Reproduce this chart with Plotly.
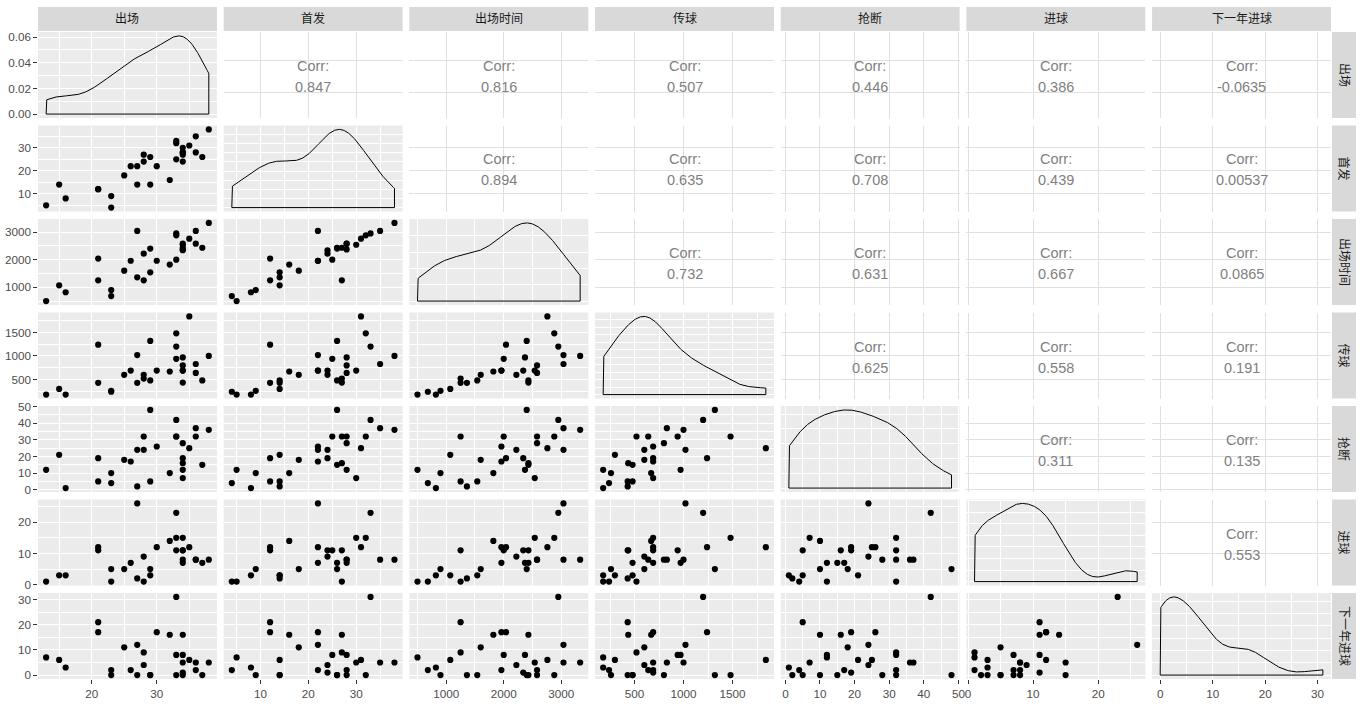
import numpy as np
import plotly.graph_objects as go

# ---------------- data ----------------
var_names = ["出场", "首发", "出场时间", "传球", "抢断", "进球", "下一年进球"]

appearances = [13, 15, 16, 21, 21, 23, 23, 25, 26, 27, 27, 28, 28, 29, 29, 30, 32, 33, 33, 33,
               34, 34, 34, 34, 34, 35, 36, 36, 37, 38]
starts = [5, 14, 8, 12, 12, 9, 4, 18, 22, 22, 14, 27, 24, 26, 14, 22, 16, 33, 32, 25,
          30, 28, 27, 28, 24, 31, 35, 28, 26, 38]
minutes = [500, 1070, 820, 2040, 1250, 900, 680, 1600, 1960, 3040, 1360, 1250, 2220, 2400, 1540,
           1960, 1820, 2950, 2880, 2000, 2540, 2370, 2430, 2580, 2340, 2760, 3040, 2580, 2430, 3330]
passes = [180, 300, 180, 1240, 430, 260, 240, 600, 690, 1020, 430, 520, 600, 1320, 480,
          690, 670, 1200, 1480, 940, 690, 970, 436, 800, 690, 1840, 830, 640, 480, 1000]
tackles = [12, 21, 1, 19, 5, 10, 4, 18, 17, 24, 2, 32, 24, 48, 5, 26, 10, 42, 32, 32,
           7, 12, 16, 28, 19, 25, 37, 32, 15, 36]
goals = [1, 3, 3, 12, 11, 5, 1, 5, 7, 26, 2, 1, 9, 5, 3, 12, 14, 23, 15, 11,
         15, 7, 11, 8, 11, 12, 8, 8, 7, 8]
next_goals = [7, 6, 3, 17, 21, 0, 2, 11, 2, 12, 0, 9, 4, 0, 0, 17, 16, 31, 0, 8,
              5, 8, 16, 0, 1, 6, 5, 2, 0, 5]

# correlation labels shown in the upper triangle (row by row)
corr_labels = ["0.847", "0.816", "0.507", "0.446", "0.386", "-0.0635",
               "0.894", "0.635", "0.708", "0.439", "0.00537",
               "0.732", "0.631", "0.667", "0.0865",
               "0.625", "0.558", "0.191",
               "0.311", "0.135",
               "0.553"]

# axis break steps per variable
var_steps = [10, 10, 1000, 500, 10, 10, 10]

data = [appearances, starts, minutes, passes, tackles, goals, next_goals]
n = len(var_names)

# ---------------- layout geometry (pixels) ----------------
W, H = 1360, 706
left, top = 38, 32
pw, ph = 179, 86
pitch_x, pitch_y = 185.75, 93.5
plot_w = pitch_x * (n - 1) + pw
plot_h = pitch_y * (n - 1) + ph
right = left + plot_w
bottom = top + plot_h

def px2paper_x(px):
    return (px - left) / plot_w

def px2paper_y(py):
    return (bottom - py) / plot_h

FONT = "Liberation Sans, Noto Sans CJK SC, Arial, sans-serif"
PANEL_BG = "#EBEBEB"
STRIP_BG = "#D9D9D9"
TICK_COL = "#4D4D4D"


def expand(lo, hi, f=0.05):
    d = (hi - lo) * f
    return [lo - d, hi + d]


def nrd0(x):
    x = np.asarray(x, float)
    sd = x.std(ddof=1)
    q75, q25 = np.percentile(x, [75, 25])
    lo = min(sd, (q75 - q25) / 1.34)
    if lo == 0:
        lo = sd
    return 0.9 * lo * len(x) ** -0.2


def nice_step(span):
    raw = span / 4.0
    mag = 10 ** np.floor(np.log10(raw))
    best = None
    for m in [1, 2, 5, 10]:
        s = m * mag
        if span / s >= 2.5:
            best = s
    return best if best else mag


# density curves
dens = []
for v in data:
    x = np.asarray(v, float)
    bw = nrd0(x)
    g = np.linspace(x.min(), x.max(), 512)
    d = np.exp(-0.5 * ((g[:, None] - x[None, :]) / bw) ** 2).sum(1) / (len(x) * bw * np.sqrt(2 * np.pi))
    dens.append((g, d))

fig = go.Figure()
layout = dict(
    width=W, height=H,
    margin=dict(l=left, r=W - right, t=top, b=H - bottom, pad=0, autoexpand=False),
    paper_bgcolor="white", plot_bgcolor="white",
    showlegend=False,
    font=dict(family=FONT, size=12, color=TICK_COL),
)
shapes = []
annotations = []

ci = 0
for i in range(n):
    for j in range(n):
        k = i * n + j + 1
        xname = "xaxis" if k == 1 else f"xaxis{k}"
        yname = "yaxis" if k == 1 else f"yaxis{k}"
        xr = "x" if k == 1 else f"x{k}"
        yr = "y" if k == 1 else f"y{k}"

        x0 = px2paper_x(left + j * pitch_x)
        x1 = px2paper_x(left + j * pitch_x + pw)
        y1 = px2paper_y(top + i * pitch_y)
        y0 = px2paper_y(top + i * pitch_y + ph)

        xv = np.asarray(data[j], float)
        xrange_ = expand(xv.min(), xv.max())
        xstep = var_steps[j]

        if i == j:
            g, d = dens[i]
            M = d.max()
            yrange_ = [-0.05 * M, 1.05 * M]
            ystep = 0.02 if i == 0 else nice_step(1.1 * M)
        else:
            yv = np.asarray(data[i], float)
            yrange_ = expand(yv.min(), yv.max())
            ystep = var_steps[i]

        upper = i < j
        if upper:
            grid_major = dict(showgrid=True, gridcolor="#E0E0E0", gridwidth=1.0)
            minor_x = dict(showgrid=False)
            minor_y = dict(showgrid=False)
        else:
            grid_major = dict(showgrid=True, gridcolor="white", gridwidth=1.1)
            minor_x = dict(showgrid=True, gridcolor="white", gridwidth=0.55, dtick=xstep / 2, tick0=0)
            minor_y = dict(showgrid=True, gridcolor="white", gridwidth=0.55, dtick=ystep / 2, tick0=0)
            shapes.append(dict(type="rect", xref="paper", yref="paper", x0=x0, x1=x1, y0=y0, y1=y1,
                               fillcolor=PANEL_BG, line=dict(width=0), layer="below"))

        show_x = (i == n - 1)
        show_y = (j == 0)
        layout[xname] = dict(
            domain=[x0, x1], anchor=yr, range=xrange_, tickmode="linear", tick0=0, dtick=xstep,
            zeroline=False, showline=False, minor=minor_x, automargin=False, fixedrange=True,
            showticklabels=show_x, ticks="outside" if show_x else "", ticklen=3.7,
            tickcolor="#333333", tickwidth=1,
            tickfont=dict(family=FONT, size=11.7, color=TICK_COL), **grid_major)
        ydict = dict(
            domain=[y0, y1], anchor=xr, range=yrange_, tickmode="linear", tick0=0, dtick=ystep,
            zeroline=False, showline=False, minor=minor_y, automargin=False, fixedrange=True,
            showticklabels=show_y, ticks="outside" if show_y else "", ticklen=3.7,
            tickcolor="#333333", tickwidth=1,
            tickfont=dict(family=FONT, size=11.7, color=TICK_COL), **grid_major)
        if i == j == 0:
            ydict["tickformat"] = ".2f"
        layout[yname] = ydict

        if i == j:
            g, d = dens[i]
            px_ = np.concatenate([[g[0]], g, [g[-1], g[0]]])
            py_ = np.concatenate([[0], d, [0, 0]])
            fig.add_trace(go.Scatter(x=px_, y=py_, mode="lines", line=dict(color="black", width=1),
                                     hoverinfo="skip", xaxis=xr, yaxis=yr))
        elif i > j:
            fig.add_trace(go.Scatter(x=data[j], y=data[i], mode="markers",
                                     marker=dict(color="black", size=6.2, line=dict(width=0)),
                                     xaxis=xr, yaxis=yr))
        else:
            # invisible trace so the (text-only) correlation panel is drawn
            fig.add_trace(go.Scatter(x=data[j], y=data[i], mode="markers",
                                     marker=dict(color="rgba(0,0,0,0)", size=1),
                                     hoverinfo="skip", xaxis=xr, yaxis=yr))
            lab = corr_labels[ci]
            ci += 1
            annotations.append(dict(text="Corr:", xref=f"{xr} domain", yref=f"{yr} domain",
                                    x=0.5, y=0.5, yshift=9, showarrow=False,
                                    font=dict(family=FONT, size=14.5, color="#7F7F7F")))
            annotations.append(dict(text=lab, xref=f"{xr} domain", yref=f"{yr} domain",
                                    x=0.5, y=0.5, yshift=-12, showarrow=False,
                                    font=dict(family=FONT, size=14.5, color="#7F7F7F")))

# strips
strip_size = 24
for j in range(n):
    x0 = px2paper_x(left + j * pitch_x)
    x1 = px2paper_x(left + j * pitch_x + pw)
    sy0 = px2paper_y(top - 1)
    sy1 = px2paper_y(top - 1 - strip_size)
    shapes.append(dict(type="rect", xref="paper", yref="paper", x0=x0, x1=x1, y0=sy0, y1=sy1,
                       fillcolor=STRIP_BG, line=dict(width=0), layer="below"))
    annotations.append(dict(text=var_names[j], xref="paper", yref="paper", x=(x0 + x1) / 2,
                            y=(sy0 + sy1) / 2, showarrow=False, xanchor="center", yanchor="middle",
                            font=dict(family=FONT, size=12, color="#1A1A1A")))
for i in range(n):
    y1 = px2paper_y(top + i * pitch_y)
    y0 = px2paper_y(top + i * pitch_y + ph)
    sx0 = px2paper_x(right + 1)
    sx1 = px2paper_x(right + 1 + strip_size)
    shapes.append(dict(type="rect", xref="paper", yref="paper", x0=sx0, x1=sx1, y0=y0, y1=y1,
                       fillcolor=STRIP_BG, line=dict(width=0), layer="below"))
    annotations.append(dict(text=var_names[i], xref="paper", yref="paper", x=(sx0 + sx1) / 2,
                            y=(y0 + y1) / 2, showarrow=False, xanchor="center", yanchor="middle",
                            textangle=90, font=dict(family=FONT, size=12, color="#1A1A1A")))

layout["shapes"] = shapes
layout["annotations"] = annotations
fig.update_layout(**layout)
fig.write_html("out.html")
